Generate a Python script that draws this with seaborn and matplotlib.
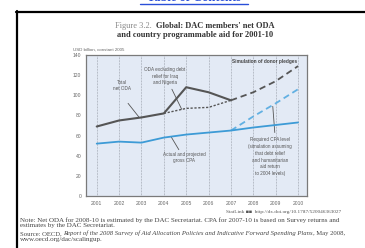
import matplotlib
matplotlib.use("Agg")
import matplotlib.pyplot as plt
import seaborn as sns
from matplotlib.lines import Line2D

# ---------------- data ----------------
years = [2001, 2002, 2003, 2004, 2005, 2006, 2007, 2008, 2009, 2010]
total_years = [2001, 2002, 2003, 2004, 2005, 2006, 2007]
total_net_oda = [69, 75, 78, 82, 108, 103, 95]
proj_years = [2007, 2008, 2009, 2010]
total_projected = [95, 103, 114, 129]
excl_years = [2004, 2005, 2006, 2007]
oda_excl_debt = [82, 87, 88, 95]
gross_cpa = [52, 54, 53, 58, 61, 63, 65, 68, 70.5, 73]
required_cpa = [65, 79, 92, 106]
y_ticks = [0, 20, 40, 60, 80, 100, 120, 140]

W, H = 365, 248
sns.set_theme(style="white")
plt.rcParams["font.family"] = ["Liberation Sans", "DejaVu Sans"]

fig = plt.figure(figsize=(W / 100, H / 100), dpi=100)
fig.patch.set_facecolor("white")
fig.canvas.draw()
renderer = fig.canvas.get_renderer()


def fx(x):
    return x / W


def fy(y):
    return 1 - y / H


def width_px(t):
    return t.get_window_extent(renderer).width


def fit_line(pieces, x0, y, target_w, size, color="#444444", family="Liberation Serif"):
    """Place text pieces in sequence and scale font size so the line spans target_w."""
    texts = []
    for txt, st in pieces:
        texts.append(fig.text(0, 0, txt, fontsize=size, family=family, style=st))
    total = sum(width_px(t) for t in texts)
    new_size = size * target_w / total
    xcur = x0
    for t in texts:
        t.set_fontsize(new_size)
        t.set_color(color)
        t.set_va("center")
        t.set_position((fx(xcur), fy(y)))
        xcur += width_px(t)
    return texts


# page frame (black) and cut-off blue link at top
fig.add_artist(Line2D([fx(17), fx(17)], [fy(11), fy(260)], color="black", lw=1.6))
fig.add_artist(Line2D([fx(16.3), fx(366)], [fy(11.5), fy(11.5)], color="black", lw=1.6))
fig.text(fx(194), fy(1.0), "Table of Contents", color="#2a4fd8", fontsize=9,
         ha="center", va="baseline", fontweight="bold", family="Liberation Serif")
fig.add_artist(Line2D([fx(140), fx(248)], [fy(3.6), fy(3.6)], color="#2a4fd8", lw=1.0))

# title: grey "Figure 3.2." followed by bold text, centred as a whole
ser = "Liberation Serif"
ta = fig.text(0, 0, "Figure 3.2.  ", color="#888888", fontsize=6.0, family=ser, va="center")
tb = fig.text(0, 0, "Global: DAC members' net ODA", color="#333333", fontsize=6.0,
              fontweight="bold", family=ser, va="center")
wa, wb = width_px(ta), width_px(tb)
x_start = 195 - (wa + wb) / 2
ta.set_position((fx(x_start), fy(26)))
tb.set_position((fx(x_start + wa), fy(26)))
fig.text(fx(195), fy(35), "and country programmable aid for 2001-10", color="#333333",
         fontsize=6.0, fontweight="bold", ha="center", va="center", family=ser)

fig.text(fx(73), fy(50), "USD billion, constant 2005", color="#666666",
         fontsize=3.2, ha="left", va="center")

# ---------------- axes ----------------
ax = fig.add_axes([fx(86), fy(196), (307 - 86) / W, (196 - 55) / H])
ax.set_facecolor("#e3eaf5")
ax.set_xlim(2000.52, 2010.4)
ax.set_ylim(0, 140)

for yr in years:
    ax.axvline(yr, color="#8a8f99", lw=0.5, ls=(0, (1, 1.2)), zorder=1)

dark = "#555555"
blue = "#3d9bd6"
sns.lineplot(x=total_years, y=total_net_oda, ax=ax, color=dark, lw=1.5, zorder=4)
sns.lineplot(x=proj_years, y=total_projected, ax=ax, color=dark, lw=1.3,
             linestyle=(0, (3.5, 2.2)), zorder=4)
sns.lineplot(x=excl_years, y=oda_excl_debt, ax=ax, color=dark, lw=1.0,
             linestyle=(0, (1.6, 1.2)), zorder=3)
sns.lineplot(x=years, y=gross_cpa, ax=ax, color=blue, lw=1.3, zorder=4)
sns.lineplot(x=proj_years, y=required_cpa, ax=ax, color="#62b0e2", lw=1.3,
             linestyle=(0, (3.5, 2.2)), zorder=3)

ax.set_xticks(years)
ax.set_xticklabels([str(y) for y in years])
ax.set_yticks(y_ticks)
ax.tick_params(axis="both", length=0, labelsize=3.6, colors="#666666", pad=3.5)
for s in ax.spines.values():
    s.set_color("#7a7a7a")
    s.set_linewidth(0.9)
ax.set_xlabel("")
ax.set_ylabel("")

# annotations
afs = 3.3
acol = "#555555"
arrow = dict(arrowstyle="-", color="#555555", lw=0.6, shrinkA=0, shrinkB=0)
ax.text(2002.13, 110, "Total\nnet ODA", fontsize=afs, color=acol, ha="center",
        va="center", linespacing=1.3)
ax.annotate("", xy=(2002.9, 78), xytext=(2002.4, 92), arrowprops=arrow)
ax.text(2004.05, 119, "ODA excluding debt\nrelief for Iraq\nand Nigeria", fontsize=afs,
        color=acol, ha="center", va="center", linespacing=1.3)
ax.annotate("", xy=(2004.8, 86), xytext=(2004.36, 106), arrowprops=arrow)
ax.text(2004.9, 38, "Actual and projected\ngross CPA", fontsize=afs, color=acol,
        ha="center", va="center", linespacing=1.3)
ax.annotate("", xy=(2004.32, 59), xytext=(2004.67, 46), arrowprops=arrow)
ax.text(2008.74, 39, "Required CPA level\n(simulation assuming\nthat debt relief\n"
        "and humanitarian\naid return\nto 2004 levels)", fontsize=afs, color=acol,
        ha="center", va="center", linespacing=1.45)
ax.annotate("", xy=(2008.87, 89), xytext=(2008.96, 63), arrowprops=arrow)
ax.text(2009.95, 134, "Simulation of donor pledges", fontsize=3.4, color="#444444",
        fontweight="bold", ha="right", va="center")

# ---------------- footer ----------------
fig.text(fx(341), fy(212), "StatLink \u25a0\u25a0  http://dx.doi.org/10.1787/520046363027",
         fontsize=3.8, color="#555555", ha="right", va="center", family=ser)
note1 = fit_line([("Note: Net ODA for 2008-10 is estimated by the DAC Secretariat. "
                   "CPA for 2007-10 is based on Survey returns and", "normal")],
                 20, 220, 323, 4.6)
nfs = note1[0].get_fontsize()
fig.text(fx(20), fy(226), "estimates by the DAC Secretariat.", fontsize=nfs,
         color="#444444", ha="left", va="center", family=ser)
fit_line([("Source: OECD, ", "normal"),
          ("Report of the 2008 Survey of Aid Allocation Policies and Indicative "
           "Forward Spending Plans", "italic"),
          (", May 2008,", "normal")], 20, 233.5, 323, 4.6)
fig.text(fx(20), fy(240), "www.oecd.org/dac/scalingup.", fontsize=nfs,
         color="#444444", ha="left", va="center", family=ser)

fig.savefig("out.png", dpi=100)
